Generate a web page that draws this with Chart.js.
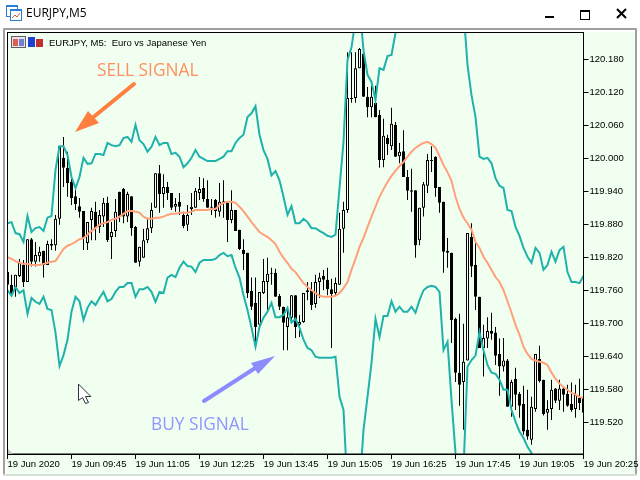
<!DOCTYPE html>
<html>
<head>
<meta charset="utf-8">
<title>EURJPY,M5</title>
<script src="https://cdn.jsdelivr.net/npm/chart.js@4"></script>
<style>
  html, body { margin: 0; padding: 0; background: #fff; }
  canvas { display: block; }
</style>
</head>
<body>
<canvas id="chart" width="640" height="480"></canvas>
<script>
const xTickLabels = ['19 Jun 2020', '19 Jun 09:45', '19 Jun 11:05', '19 Jun 12:25', '19 Jun 13:45', '19 Jun 15:05', '19 Jun 16:25', '19 Jun 17:45', '19 Jun 19:05', '19 Jun 20:25'];
const yTicks = [119.52, 119.58, 119.64, 119.70, 119.76, 119.82, 119.88, 119.94, 120.00, 120.06, 120.12, 120.18];

const opens = [
  119.793, 119.770, 119.766, 119.786, 119.806, 119.775, 119.853, 119.812, 119.822, 119.832,
  119.806, 119.844, 119.842, 119.890, 120.001, 119.983, 119.957, 119.931, 119.913, 119.904,
  119.846, 119.888, 119.903, 119.875, 119.894, 119.919, 119.857, 119.868, 119.939, 119.944,
  119.894, 119.931, 119.875, 119.812, 119.819, 119.851, 119.873, 119.910, 119.973, 119.935,
  119.948, 119.937, 119.912, 119.921, 119.897, 119.879, 119.908, 119.910, 119.937, 119.946,
  119.926, 119.912, 119.924, 119.903, 119.922, 119.919, 119.888, 119.906, 119.870, 119.833,
  119.828, 119.759, 119.737, 119.697, 119.755, 119.775, 119.792, 119.792, 119.750, 119.730,
  119.693, 119.710, 119.751, 119.697, 119.702, 119.757, 119.760, 119.735, 119.775, 119.786,
  119.779, 119.762, 119.755, 119.770, 119.872, 119.906, 120.108, 120.110, 120.164, 120.191,
  120.112, 120.093, 120.101, 120.079, 119.997, 120.037, 120.022, 120.061, 120.004, 120.013,
  119.966, 119.942, 119.942, 119.851, 119.910, 119.950, 119.997, 120.003, 119.948, 119.921,
  119.832, 119.828, 119.708, 119.610, 119.593, 119.632, 119.857, 119.806, 119.748, 119.655,
  119.672, 119.686, 119.683, 119.644, 119.621, 119.632, 119.548, 119.599, 119.571, 119.553,
  119.506, 119.488, 119.544, 119.635, 119.597, 119.537, 119.544, 119.581, 119.559, 119.581,
  119.571, 119.553, 119.544, 119.564, 119.566
];
const highs = [
  119.806, 119.788, 119.788, 119.817, 119.815, 119.853, 119.855, 119.848, 119.839, 119.832,
  119.850, 119.853, 119.897, 120.022, 120.039, 120.012, 119.964, 119.951, 119.928, 119.904,
  119.884, 119.910, 119.921, 119.906, 119.928, 119.930, 119.884, 119.926, 119.939, 119.946,
  119.939, 119.931, 119.877, 119.839, 119.872, 119.892, 119.919, 119.973, 119.988, 119.971,
  119.957, 119.937, 119.928, 119.937, 119.903, 119.915, 119.937, 119.946, 119.966, 119.964,
  119.960, 119.926, 119.926, 119.955, 119.960, 119.921, 119.942, 119.906, 119.870, 119.853,
  119.828, 119.783, 119.783, 119.757, 119.817, 119.819, 119.801, 119.799, 119.753, 119.730,
  119.730, 119.751, 119.751, 119.715, 119.755, 119.775, 119.775, 119.788, 119.792, 119.797,
  119.801, 119.781, 119.783, 119.901, 119.921, 120.193, 120.193, 120.193, 120.201, 120.191,
  120.130, 120.132, 120.132, 120.088, 120.072, 120.043, 120.092, 120.066, 120.028, 120.051,
  119.979, 119.981, 119.942, 119.910, 119.957, 120.008, 120.022, 120.004, 119.948, 119.921,
  119.855, 119.828, 119.710, 119.717, 119.699, 119.864, 119.882, 119.851, 119.748, 119.697,
  119.711, 119.719, 119.693, 119.672, 119.673, 119.635, 119.597, 119.619, 119.575, 119.586,
  119.579, 119.566, 119.644, 119.659, 119.597, 119.560, 119.597, 119.582, 119.597, 119.582,
  119.588, 119.592, 119.588, 119.599, 119.573
];
const lows = [
  119.760, 119.748, 119.748, 119.784, 119.766, 119.775, 119.803, 119.803, 119.812, 119.783,
  119.806, 119.833, 119.832, 119.879, 119.948, 119.930, 119.915, 119.906, 119.892, 119.833,
  119.833, 119.851, 119.851, 119.864, 119.875, 119.848, 119.817, 119.857, 119.884, 119.882,
  119.884, 119.859, 119.810, 119.803, 119.819, 119.846, 119.864, 119.910, 119.901, 119.910,
  119.924, 119.906, 119.903, 119.897, 119.873, 119.868, 119.897, 119.910, 119.924, 119.921,
  119.910, 119.897, 119.892, 119.894, 119.892, 119.848, 119.882, 119.868, 119.833, 119.797,
  119.746, 119.724, 119.666, 119.693, 119.753, 119.724, 119.770, 119.748, 119.724, 119.651,
  119.651, 119.701, 119.673, 119.675, 119.701, 119.742, 119.724, 119.728, 119.746, 119.760,
  119.751, 119.655, 119.751, 119.770, 119.828, 119.901, 120.101, 120.101, 120.164, 120.112,
  120.075, 120.075, 120.075, 119.983, 119.984, 120.006, 120.015, 120.003, 119.991, 119.966,
  119.924, 119.903, 119.819, 119.842, 119.894, 119.937, 119.975, 119.930, 119.901, 119.792,
  119.801, 119.664, 119.593, 119.550, 119.506, 119.632, 119.784, 119.724, 119.655, 119.603,
  119.655, 119.670, 119.624, 119.568, 119.612, 119.548, 119.530, 119.542, 119.528, 119.497,
  119.488, 119.479, 119.539, 119.592, 119.532, 119.506, 119.524, 119.555, 119.542, 119.539,
  119.548, 119.539, 119.528, 119.542, 119.533
];
const closes = [
  119.770, 119.755, 119.788, 119.810, 119.775, 119.853, 119.812, 119.824, 119.830, 119.806,
  119.844, 119.841, 119.890, 120.022, 119.983, 119.955, 119.928, 119.917, 119.903, 119.855,
  119.884, 119.904, 119.873, 119.897, 119.919, 119.851, 119.866, 119.903, 119.894, 119.894,
  119.935, 119.873, 119.810, 119.839, 119.851, 119.873, 119.906, 119.973, 119.935, 119.948,
  119.937, 119.910, 119.917, 119.912, 119.877, 119.897, 119.912, 119.941, 119.944, 119.926,
  119.910, 119.910, 119.904, 119.921, 119.919, 119.888, 119.906, 119.868, 119.835, 119.826,
  119.755, 119.730, 119.693, 119.757, 119.777, 119.790, 119.790, 119.748, 119.730, 119.701,
  119.711, 119.751, 119.693, 119.702, 119.755, 119.760, 119.733, 119.775, 119.783, 119.779,
  119.762, 119.753, 119.773, 119.872, 119.906, 120.110, 120.110, 120.164, 120.199, 120.112,
  120.093, 120.112, 120.075, 119.997, 120.041, 120.026, 120.063, 120.003, 120.012, 119.966,
  119.941, 119.939, 119.842, 119.910, 119.953, 119.997, 119.995, 119.946, 119.919, 119.830,
  119.828, 119.706, 119.610, 119.588, 119.630, 119.864, 119.803, 119.748, 119.655, 119.673,
  119.686, 119.681, 119.641, 119.621, 119.632, 119.548, 119.593, 119.570, 119.550, 119.503,
  119.494, 119.548, 119.644, 119.595, 119.535, 119.544, 119.579, 119.559, 119.581, 119.570,
  119.550, 119.542, 119.570, 119.555, 119.537
];
const upperBand = [
  119.882, 119.884, 119.864, 119.862, 119.848, 119.895, 119.866, 119.873, 119.875, 119.868,
  119.892, 119.895, 119.979, 120.022, 120.022, 120.006, 119.966, 119.946, 119.966, 120.001,
  119.990, 119.991, 120.008, 120.008, 120.006, 120.028, 120.024, 120.022, 120.024, 120.037,
  120.039, 120.030, 120.061, 120.033, 120.026, 120.012, 120.021, 120.039, 120.024, 120.028,
  120.028, 120.008, 120.010, 120.003, 119.984, 119.991, 120.001, 120.015, 120.003, 119.999,
  119.995, 119.995, 119.995, 119.999, 120.003, 120.013, 120.013, 120.028, 120.037, 120.043,
  120.075, 120.082, 120.095, 120.043, 120.015, 119.999, 119.969, 119.977, 119.960, 119.930,
  119.897, 119.913, 119.882, 119.882, 119.890, 119.884, 119.873, 119.873, 119.868, 119.864,
  119.859, 119.857, 119.861, 119.946, 120.030, 120.179, 120.202, 120.252, 120.279, 120.197,
  120.152, 120.139, 120.106, 120.164, 120.161, 120.186, 120.188, 120.228, 120.270, 120.300,
  120.300, 120.300, 120.300, 120.300, 120.300, 120.300, 120.300, 120.300, 120.300, 120.300,
  120.300, 120.300, 120.300, 120.300, 120.270, 120.170, 120.115, 120.075, 120.003, 119.999,
  120.001, 119.991, 119.964, 119.950, 119.946, 119.906, 119.904, 119.875, 119.859, 119.837,
  119.821, 119.810, 119.837, 119.828, 119.797, 119.806, 119.830, 119.812, 119.833, 119.839,
  119.793, 119.775, 119.775, 119.773, 119.786
];
const lowerBand = [
  119.760, 119.750, 119.766, 119.755, 119.760, 119.717, 119.746, 119.739, 119.735, 119.748,
  119.726, 119.724, 119.683, 119.622, 119.642, 119.670, 119.721, 119.748, 119.740, 119.706,
  119.728, 119.740, 119.733, 119.746, 119.757, 119.740, 119.744, 119.757, 119.766, 119.766,
  119.773, 119.773, 119.748, 119.762, 119.762, 119.766, 119.757, 119.739, 119.757, 119.755,
  119.783, 119.788, 119.784, 119.801, 119.812, 119.804, 119.803, 119.793, 119.810, 119.815,
  119.815, 119.815, 119.817, 119.824, 119.828, 119.822, 119.824, 119.801, 119.783, 119.751,
  119.724, 119.692, 119.657, 119.693, 119.710, 119.721, 119.737, 119.711, 119.711, 119.715,
  119.728, 119.701, 119.708, 119.692, 119.670, 119.655, 119.651, 119.639, 119.637, 119.637,
  119.637, 119.637, 119.639, 119.566, 119.542, 119.397, 119.360, 119.360, 119.397, 119.506,
  119.566, 119.628, 119.708, 119.675, 119.713, 119.713, 119.740, 119.721, 119.730, 119.721,
  119.721, 119.730, 119.719, 119.742, 119.760, 119.766, 119.768, 119.766, 119.757, 119.651,
  119.666, 119.560, 119.464, 119.397, 119.433, 119.621, 119.633, 119.641, 119.684, 119.651,
  119.624, 119.610, 119.608, 119.597, 119.579, 119.579, 119.542, 119.521, 119.503, 119.491,
  119.475, 119.464, 119.433, 119.397, 119.360, 119.360, 119.360, 119.360, 119.360, 119.360,
  119.360, 119.360, 119.360, 119.360, 119.360
];
const movingAverage = [
  119.820, 119.817, 119.813, 119.810, 119.808, 119.808, 119.806, 119.806, 119.806, 119.808,
  119.810, 119.812, 119.813, 119.824, 119.835, 119.841, 119.844, 119.848, 119.853, 119.855,
  119.861, 119.868, 119.873, 119.879, 119.882, 119.884, 119.888, 119.890, 119.894, 119.899,
  119.904, 119.904, 119.903, 119.901, 119.894, 119.890, 119.890, 119.892, 119.892, 119.894,
  119.897, 119.899, 119.899, 119.901, 119.901, 119.901, 119.903, 119.906, 119.906, 119.906,
  119.906, 119.908, 119.908, 119.915, 119.919, 119.921, 119.921, 119.919, 119.912, 119.904,
  119.894, 119.884, 119.875, 119.866, 119.861, 119.857, 119.851, 119.844, 119.830, 119.819,
  119.810, 119.799, 119.793, 119.783, 119.773, 119.766, 119.760, 119.755, 119.750, 119.748,
  119.748, 119.748, 119.750, 119.755, 119.764, 119.775, 119.797, 119.817, 119.839, 119.855,
  119.875, 119.894, 119.912, 119.930, 119.944, 119.957, 119.968, 119.977, 119.986, 119.993,
  120.003, 120.012, 120.019, 120.024, 120.028, 120.030, 120.026, 120.019, 120.004, 119.988,
  119.975, 119.959, 119.930, 119.908, 119.892, 119.882, 119.870, 119.848, 119.837, 119.821,
  119.810, 119.797, 119.784, 119.775, 119.760, 119.740, 119.719, 119.697, 119.679, 119.657,
  119.644, 119.635, 119.632, 119.630, 119.628, 119.624, 119.610, 119.599, 119.590, 119.584,
  119.579, 119.573, 119.570, 119.566, 119.564
];

const wicks = lows.map((low, i) => [low, highs[i]]);
const bodies = opens.map((open, i) => [Math.min(open, closes[i]), Math.max(open, closes[i])]);
const labels = opens.map((_, i) => (i % 16 === 0 ? xTickLabels[i / 16] : ''));

const green = '#f0fff0';
const tickFont = { family: '"Liberation Sans", sans-serif', size: 9.5 };

const arrow = (ctx, color, tail, tip, wingA, wingB) => {
  ctx.strokeStyle = color;
  ctx.fillStyle = color;
  ctx.lineWidth = 4;
  ctx.lineCap = 'round';
  ctx.beginPath();
  ctx.moveTo(tail[0], tail[1]);
  ctx.lineTo((wingA[0] + wingB[0]) / 2, (wingA[1] + wingB[1]) / 2);
  ctx.stroke();
  ctx.beginPath();
  ctx.moveTo(tip[0], tip[1]);
  ctx.lineTo(wingA[0], wingA[1]);
  ctx.lineTo(wingB[0], wingB[1]);
  ctx.closePath();
  ctx.fill();
};

const windowFrame = {
  id: 'windowFrame',
  beforeDraw(chart) {
    const ctx = chart.ctx;
    ctx.save();
    ctx.fillStyle = '#fff';
    ctx.fillRect(0, 0, 640, 480);
    ctx.fillStyle = '#a0a0a0';
    ctx.fillRect(3, 28, 634, 2);
    ctx.fillRect(3, 28, 2, 447);
    ctx.fillRect(635, 28, 2, 447);
    ctx.fillStyle = '#d8e0d8';
    ctx.fillRect(3, 474, 634, 2);
    ctx.fillStyle = green;
    ctx.fillRect(7, 32, 628, 442);
    ctx.restore();
  },
  afterDraw(chart) {
    const ctx = chart.ctx;
    const a = chart.chartArea;
    ctx.save();

    // plot frame
    ctx.strokeStyle = '#000';
    ctx.lineWidth = 1;
    ctx.strokeRect(a.left, a.top, a.right - a.left, a.bottom - a.top);
    ctx.fillStyle = '#c0c0c0';
    ctx.beginPath();
    ctx.moveTo(8, 449);
    ctx.lineTo(13, 454);
    ctx.lineTo(8, 454);
    ctx.fill();

    // window title bar
    ctx.fillStyle = '#fff';
    ctx.strokeStyle = '#2a7fd0';
    ctx.strokeRect(6.5, 5.5, 11, 11);
    ctx.fillRect(10, 9, 12, 12);
    ctx.strokeRect(10.5, 9.5, 11, 11);
    ctx.fillStyle = '#2a7fd0';
    ctx.fillRect(10, 9, 12, 2);
    ctx.fillRect(6, 5, 12, 2);
    ctx.strokeStyle = '#d06040';
    ctx.beginPath();
    ctx.moveTo(12, 18);
    ctx.lineTo(15, 15);
    ctx.lineTo(17, 17);
    ctx.lineTo(20, 13);
    ctx.stroke();
    ctx.fillStyle = '#000';
    ctx.textBaseline = 'middle';
    ctx.font = '12px "Open Sans", sans-serif';
    ctx.fillText('EURJPY,M5', 26, 14);

    // window buttons
    ctx.fillRect(545, 16, 9, 2);
    ctx.strokeStyle = '#000';
    ctx.lineWidth = 1;
    ctx.strokeRect(580.5, 10.5, 9, 9);
    ctx.fillRect(580, 10, 10, 2);
    ctx.lineWidth = 2;
    ctx.beginPath();
    ctx.moveTo(617, 9);
    ctx.lineTo(626, 18);
    ctx.moveTo(626, 9);
    ctx.lineTo(617, 18);
    ctx.stroke();

    // chart toolbar icons and symbol line
    ctx.lineWidth = 1;
    ctx.fillStyle = '#e8e0f0';
    ctx.strokeStyle = '#606060';
    ctx.strokeRect(11.5, 36.5, 14, 11);
    ctx.fillRect(12, 37, 13, 10);
    ctx.fillStyle = '#e06050';
    ctx.fillRect(13, 39, 5, 7);
    ctx.fillStyle = '#7080d0';
    ctx.fillRect(19, 39, 5, 7);
    ctx.fillStyle = '#2040d0';
    ctx.fillRect(28, 37, 7, 10);
    ctx.fillStyle = '#c03030';
    ctx.fillRect(36, 39, 7, 8);
    ctx.fillStyle = '#000';
    ctx.font = '9.5px "Liberation Sans", sans-serif';
    ctx.fillText('EURJPY, M5:  Euro vs Japanese Yen', 49, 43);

    // signal notes
    ctx.font = '17.3px "Open Sans", sans-serif';
    ctx.fillStyle = '#ff9060';
    ctx.fillText('SELL SIGNAL', 97, 71);
    ctx.fillStyle = '#9494ff';
    ctx.fillText('BUY SIGNAL', 151, 425);
    arrow(ctx, '#ff7f3f', [134, 84], [75, 132], [88, 111], [99, 123]);
    arrow(ctx, '#8c8cff', [204, 401], [275, 356], [251, 363], [258, 374]);

    // mouse pointer
    ctx.fillStyle = '#fff';
    ctx.strokeStyle = '#303040';
    ctx.lineWidth = 1;
    ctx.beginPath();
    ctx.moveTo(78.5, 384.5);
    ctx.lineTo(78.5, 400.5);
    ctx.lineTo(82.5, 397.5);
    ctx.lineTo(85.5, 403.5);
    ctx.lineTo(88.5, 402.5);
    ctx.lineTo(85.5, 396.5);
    ctx.lineTo(90.5, 396.5);
    ctx.closePath();
    ctx.fill();
    ctx.stroke();

    ctx.restore();
  }
};

new Chart(document.getElementById('chart'), {
  data: {
    labels: labels,
    datasets: [
      { type: 'line', label: 'Upper band', data: upperBand, borderColor: '#20b2aa', borderWidth: 2, pointRadius: 0, tension: 0, order: 0 },
      { type: 'line', label: 'Lower band', data: lowerBand, borderColor: '#20b2aa', borderWidth: 2, pointRadius: 0, tension: 0, order: 1 },
      { type: 'line', label: 'Moving average', data: movingAverage, borderColor: '#ffa07a', borderWidth: 2, pointRadius: 0, tension: 0, order: 2 },
      {
        type: 'bar',
        label: 'Body',
        data: bodies,
        grouped: false,
        barThickness: 3,
        borderWidth: 1,
        borderColor: '#000',
        borderSkipped: false,
        inflateAmount: 0,
        backgroundColor: c => (closes[c.dataIndex] >= opens[c.dataIndex] ? '#fff' : '#000'),
        order: 3
      },
      { type: 'bar', label: 'Wick', data: wicks, grouped: false, barThickness: 1, borderWidth: 0, inflateAmount: 0, backgroundColor: '#000', order: 4 }
    ]
  },
  plugins: [windowFrame],
  options: {
    responsive: false,
    animation: false,
    events: [],
    layout: { padding: { left: 7.5, top: 32.5, right: 0, bottom: 0 } },
    plugins: { legend: { display: false }, tooltip: { enabled: false } },
    scales: {
      x: {
        type: 'category',
        offset: false,
        afterBuildTicks: scale => { scale.ticks = scale.ticks.filter(t => t.value % 16 === 0); },
        afterFit: scale => { scale.height = 26; scale.paddingLeft = 0; scale.paddingRight = 0; },
        grid: { drawOnChartArea: false, tickLength: 5, color: '#000', offset: false },
        border: { color: '#000' },
        ticks: { autoSkip: false, maxRotation: 0, align: 'start', padding: 0, color: '#000', font: tickFont }
      },
      y: {
        type: 'linear',
        position: 'right',
        min: 119.462,
        max: 120.229,
        afterBuildTicks: scale => { scale.ticks = yTicks.map(v => ({ value: v })); },
        afterFit: scale => { scale.width = 56.5; },
        grid: { drawOnChartArea: false, tickLength: 5, color: '#000' },
        border: { color: '#000' },
        ticks: { padding: 1, color: '#000', font: tickFont, callback: v => v.toFixed(3) }
      }
    }
  }
});
</script>
</body>
</html>
